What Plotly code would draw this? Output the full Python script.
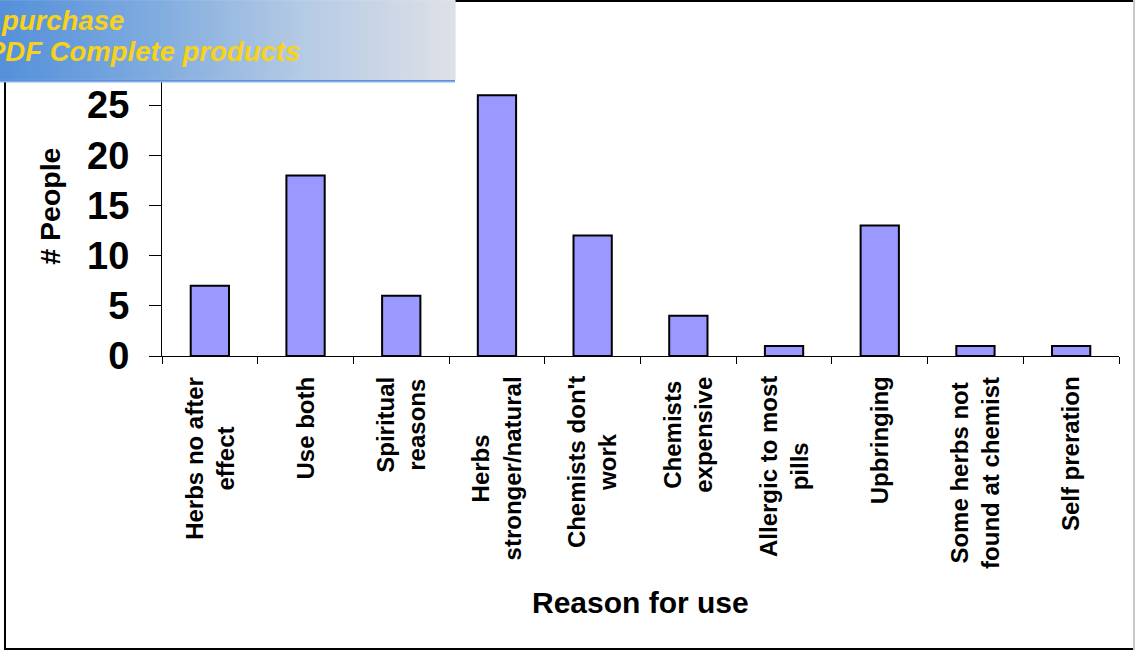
import plotly.graph_objects as go

# Survey data: reasons given for using herbal remedies
reasons = [
    "Herbs no after<br>effect",
    "Use both",
    "Spiritual<br>reasons",
    "Herbs<br>stronger/natural",
    "Chemists don't<br>work",
    "Chemists<br>expensive",
    "Allergic to most<br>pills",
    "Upbringing",
    "Some herbs not<br>found at chemist",
    "Self preration",
]
people = [7, 18, 6, 26, 12, 4, 1, 13, 1, 1]
y_ticks = [0, 5, 10, 15, 20, 25]

W, H = 1135, 655
PL, PR, PT, PB = 162, 1119, 55, 356.5  # plot-area edges in pixels
FONT = "Arial, Liberation Sans, sans-serif"


def px_x(x):
    return (x - PL) / (PR - PL)


def px_y(y):
    return (PB - y) / (PB - PT)


fig = go.Figure(
    go.Bar(
        x=reasons,
        y=people,
        marker=dict(color="#9999FF", line=dict(color="black", width=2)),
        width=0.4,
    )
)

fig.update_layout(
    width=W,
    height=H,
    margin=dict(l=PL, r=W - PR, t=PT, b=H - PB, pad=0),
    paper_bgcolor="white",
    plot_bgcolor="white",
    showlegend=False,
    font=dict(family=FONT, color="black"),
)

fig.update_xaxes(
    type="category",
    range=[-0.5, len(reasons) - 0.5],
    tickson="boundaries",
    ticks="outside",
    ticklen=7,
    tickwidth=1,
    tickcolor="black",
    showline=True,
    linecolor="black",
    linewidth=1,
    showgrid=False,
    showticklabels=False,
    zeroline=False,
)

fig.update_yaxes(
    range=[0, 30],
    tickvals=y_ticks,
    ticks="outside",
    ticklen=12,
    tickwidth=1,
    tickcolor="black",
    showline=True,
    linecolor="black",
    linewidth=1,
    showgrid=False,
    zeroline=False,
    tickfont=dict(size=38, family=FONT, weight="bold", color="black"),
    ticklabelstandoff=12,
)

annotations = []
# Category labels, rotated, with centred line alignment
for r in reasons:
    annotations.append(dict(
        x=r, xref="x", y=px_y(375), yref="paper",
        text=r, textangle=-90, showarrow=False,
        xanchor="center", yanchor="top", align="center",
        font=dict(size=24, family=FONT, weight="bold", color="black"),
    ))

# Axis titles
annotations.append(dict(
    x=px_x(640), y=px_y(603), xref="paper", yref="paper",
    text="Reason for use", showarrow=False,
    xanchor="center", yanchor="middle",
    font=dict(size=30, family=FONT, weight="bold", color="black"),
))
annotations.append(dict(
    x=px_x(50), y=px_y(207), xref="paper", yref="paper",
    text="# People", textangle=-90, showarrow=False,
    xanchor="center", yanchor="middle",
    font=dict(size=28.5, family=FONT, weight="bold", color="black"),
))

# Banner text
annotations.append(dict(
    x=px_x(-1), y=px_y(20), xref="paper", yref="paper",
    text="<i>purchase</i>", showarrow=False,
    xanchor="left", yanchor="middle",
    font=dict(size=27.5, family=FONT, weight="bold", color="#F8D21A"),
))
annotations.append(dict(
    x=px_x(-15), y=px_y(51), xref="paper", yref="paper",
    text="<i>PDF Complete products</i>", showarrow=False,
    xanchor="left", yanchor="middle",
    font=dict(size=27.5, family=FONT, weight="bold", color="#F8D21A"),
))

shapes = []
# Outer frame
shapes.append(dict(type="line", xref="paper", yref="paper",
                   x0=px_x(5), x1=px_x(5), y0=px_y(82), y1=px_y(650),
                   line=dict(color="black", width=2), layer="above"))
shapes.append(dict(type="line", xref="paper", yref="paper",
                   x0=px_x(4), x1=px_x(1135), y0=px_y(650), y1=px_y(650),
                   line=dict(color="black", width=2), layer="above"))
shapes.append(dict(type="line", xref="paper", yref="paper",
                   x0=px_x(455), x1=px_x(1133), y0=px_y(1), y1=px_y(1),
                   line=dict(color="black", width=2), layer="above"))
shapes.append(dict(type="line", xref="paper", yref="paper",
                   x0=px_x(1134), x1=px_x(1134), y0=px_y(0), y1=px_y(651),
                   line=dict(color="#C8C8C8", width=2), layer="above"))

# Banner with a horizontal blue-to-grey gradient, built from thin strips
stops = [(0, (84, 144, 218)), (150, (126, 170, 223)),
         (300, (180, 202, 228)), (455, (222, 224, 231))]


def banner_colour(x):
    for (xa, ca), (xb, cb) in zip(stops[:-1], stops[1:]):
        if xa <= x <= xb:
            t = (x - xa) / (xb - xa)
            return "rgb(%d,%d,%d)" % tuple(round(a + (b - a) * t) for a, b in zip(ca, cb))
    return "rgb(%d,%d,%d)" % stops[-1][1]


step = 5
for x0 in range(0, 455, step):
    x1 = min(x0 + step, 455)
    shapes.append(dict(type="rect", xref="paper", yref="paper",
                       x0=px_x(x0), x1=px_x(x1 + 0.6), y0=px_y(0), y1=px_y(80),
                       fillcolor=banner_colour((x0 + x1) / 2), line=dict(width=0),
                       layer="above"))
shapes.append(dict(type="rect", xref="paper", yref="paper",
                   x0=px_x(0), x1=px_x(455), y0=px_y(80), y1=px_y(81),
                   fillcolor="#5B8FD5", line=dict(width=0), layer="above"))
shapes.append(dict(type="rect", xref="paper", yref="paper",
                   x0=px_x(0), x1=px_x(455), y0=px_y(81), y1=px_y(82.5),
                   fillcolor="#86B0E6", line=dict(width=0), layer="above"))

fig.update_layout(annotations=annotations, shapes=shapes)

fig.write_html("out.html")
